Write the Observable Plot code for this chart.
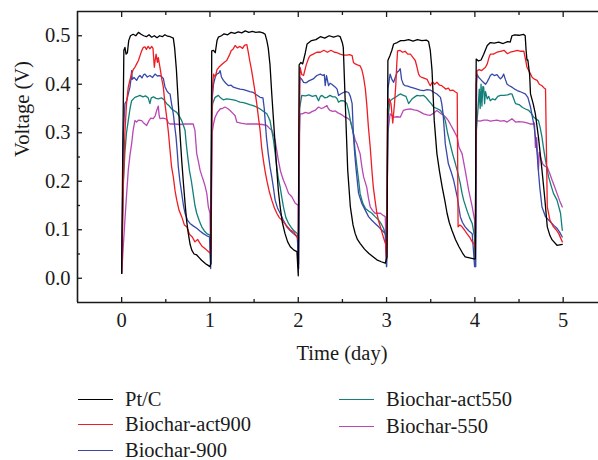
<!DOCTYPE html>
<html>
<head>
<meta charset="utf-8">
<script src="https://cdn.jsdelivr.net/npm/d3@7"></script>
<script src="https://cdn.jsdelivr.net/npm/@observablehq/plot@0.6"></script>
<style>
  html, body { margin: 0; padding: 0; background: #fff; }
  #wrap { position: relative; width: 598px; height: 460px; font-family: "Liberation Serif", "DejaVu Serif", serif; color: #1a1a1a; }
  #legend { position: absolute; left: 0; top: 0; width: 598px; height: 460px; pointer-events: none; }
  .item { position: absolute; display: flex; align-items: center; font-size: 20.5px; line-height: 18px; height: 18px; white-space: nowrap; }
  .sw { width: 35px; height: 0; border-top: 1.6px solid; margin-right: 12px; }
</style>
</head>
<body>
<div id="wrap"><div id="chart"></div><div id="legend"></div></div>
<script>
// ---- data (time in days, voltage in V) ----
const seriesNames = ["Pt/C", "Biochar-act900", "Biochar-900", "Biochar-act550", "Biochar-550"];
const seriesColors = ["#000000", "#f01c24", "#3848a8", "#137f78", "#b848b4"];
const xTicks = [0, 1, 2, 3, 4, 5];
const xMinor = [0.5, 1.5, 2.5, 3.5, 4.5];
const yTicks = [0, 0.1, 0.2, 0.3, 0.4, 0.5];
const yMinor = [0.05, 0.15, 0.25, 0.35, 0.45];
const xDomain = [-0.5, 5.4];
const yDomain = [-0.05, 0.55];
const xTitle = ["Time (day)"];
const yTitle = ["Voltage (V)"];

const ptC = [
[0,0.01],[0.012,0.25],[0.025,0.47],[0.037,0.476],[0.05,0.462],[0.065,0.465],[0.08,0.49],[0.1,0.5],[0.13,0.503],[0.16,0.5],[0.19,0.507],[0.22,0.503],[0.25,0.5],[0.28,0.498],[0.31,0.502],[0.34,0.497],[0.37,0.5],[0.4,0.496],[0.43,0.5],[0.46,0.498],[0.49,0.502],[0.52,0.499],[0.55,0.498],[0.585,0.495],[0.6,0.475],[0.62,0.43],[0.642,0.36],[0.66,0.3],[0.68,0.243],[0.7,0.195],[0.718,0.155],[0.735,0.12],[0.755,0.092],[0.775,0.07],[0.794,0.058],[0.82,0.05],[0.85,0.048],[0.88,0.042],[0.905,0.037],[0.925,0.034],[0.95,0.03],[0.975,0.027],[1.0,0.024],
[1.01,0.03],[1.02,0.469],[1.04,0.47],[1.06,0.465],[1.08,0.49],[1.095,0.497],[1.13,0.5],[1.16,0.504],[1.2,0.502],[1.24,0.507],[1.28,0.505],[1.32,0.508],[1.36,0.506],[1.4,0.51],[1.44,0.507],[1.48,0.509],[1.52,0.507],[1.56,0.508],[1.6,0.506],[1.625,0.503],[1.644,0.49],[1.66,0.475],[1.68,0.44],[1.7,0.38],[1.72,0.325],[1.74,0.27],[1.757,0.223],[1.775,0.18],[1.795,0.147],[1.82,0.115],[1.85,0.092],[1.88,0.075],[1.91,0.065],[1.95,0.058],[1.985,0.055],
[2.0,0.005],[2.01,0.44],[2.03,0.445],[2.05,0.442],[2.08,0.465],[2.1,0.483],[2.15,0.49],[2.2,0.492],[2.25,0.498],[2.3,0.495],[2.35,0.5],[2.4,0.497],[2.45,0.5],[2.475,0.498],[2.5,0.485],[2.51,0.476],[2.53,0.373],[2.56,0.223],[2.59,0.147],[2.62,0.11],[2.645,0.092],[2.67,0.08],[2.70,0.072],[2.75,0.06],[2.8,0.051],[2.85,0.044],[2.89,0.038],[2.94,0.034],[2.985,0.031],
[3.005,0.044],[3.015,0.449],[3.04,0.46],[3.06,0.47],[3.08,0.483],[3.12,0.486],[3.16,0.49],[3.2,0.49],[3.25,0.492],[3.3,0.489],[3.35,0.492],[3.4,0.49],[3.45,0.491],[3.476,0.488],[3.495,0.47],[3.515,0.428],[3.54,0.325],[3.57,0.257],[3.6,0.22],[3.63,0.188],[3.66,0.16],[3.685,0.134],[3.71,0.115],[3.74,0.099],[3.78,0.08],[3.82,0.065],[3.86,0.052],[3.89,0.044],[3.94,0.042],[3.99,0.04],
[4.005,0.04],[4.015,0.452],[4.04,0.448],[4.07,0.45],[4.1,0.462],[4.14,0.48],[4.175,0.486],[4.22,0.485],[4.27,0.487],[4.32,0.484],[4.37,0.488],[4.4,0.487],[4.42,0.5],[4.45,0.502],[4.5,0.501],[4.55,0.503],[4.57,0.5],[4.58,0.47],[4.59,0.45],[4.6,0.45],[4.62,0.42],[4.63,0.38],[4.66,0.36],[4.685,0.339],[4.72,0.291],[4.76,0.223],[4.79,0.168],[4.82,0.106],[4.85,0.088],[4.875,0.079],[4.93,0.068],[4.99,0.07]
];

const act900 = [
[0,0.01],[0.02,0.2],[0.037,0.3],[0.055,0.36],[0.075,0.394],[0.095,0.41],[0.113,0.421],[0.13,0.43],[0.15,0.435],[0.17,0.442],[0.19,0.449],[0.21,0.46],[0.227,0.469],[0.245,0.476],[0.264,0.477],[0.28,0.472],[0.3,0.478],[0.32,0.473],[0.34,0.478],[0.355,0.474],[0.37,0.435],[0.38,0.45],[0.39,0.462],[0.405,0.445],[0.415,0.455],[0.44,0.428],[0.455,0.41],[0.472,0.394],[0.49,0.36],[0.51,0.332],[0.53,0.3],[0.548,0.264],[0.565,0.23],[0.585,0.209],[0.605,0.18],[0.624,0.161],[0.65,0.14],[0.68,0.127],[0.71,0.11],[0.737,0.106],[0.77,0.09],[0.8,0.085],[0.83,0.075],[0.86,0.08],[0.888,0.072],[0.91,0.066],[0.94,0.062],[0.964,0.058],[1.0,0.052],
[1.01,0.06],[1.025,0.38],[1.04,0.421],[1.06,0.415],[1.08,0.43],[1.1,0.435],[1.13,0.44],[1.16,0.445],[1.19,0.449],[1.22,0.46],[1.24,0.469],[1.26,0.472],[1.285,0.48],[1.31,0.475],[1.34,0.478],[1.37,0.474],[1.39,0.48],[1.417,0.482],[1.435,0.465],[1.45,0.449],[1.47,0.43],[1.49,0.408],[1.51,0.385],[1.53,0.36],[1.55,0.33],[1.568,0.305],[1.585,0.27],[1.605,0.243],[1.625,0.22],[1.644,0.202],[1.67,0.18],[1.7,0.161],[1.73,0.145],[1.757,0.134],[1.785,0.125],[1.814,0.12],[1.86,0.11],[1.908,0.1],[1.95,0.095],[1.985,0.085],
[2.0,0.08],[2.01,0.3],[2.02,0.435],[2.04,0.42],[2.06,0.418],[2.09,0.44],[2.12,0.455],[2.135,0.459],[2.17,0.462],[2.21,0.466],[2.25,0.466],[2.29,0.47],[2.33,0.466],[2.37,0.47],[2.41,0.466],[2.44,0.465],[2.475,0.462],[2.51,0.46],[2.55,0.46],[2.58,0.461],[2.61,0.459],[2.625,0.445],[2.645,0.442],[2.67,0.44],[2.70,0.438],[2.72,0.43],[2.74,0.414],[2.76,0.39],[2.775,0.36],[2.795,0.31],[2.815,0.27],[2.835,0.22],[2.85,0.188],[2.87,0.16],[2.89,0.134],[2.91,0.118],[2.93,0.106],[2.955,0.09],[2.974,0.079],[2.99,0.07],
[3.0,0.04],[3.01,0.35],[3.03,0.37],[3.05,0.36],[3.07,0.32],[3.09,0.36],[3.105,0.4],[3.115,0.44],[3.125,0.469],[3.15,0.47],[3.18,0.466],[3.21,0.468],[3.24,0.462],[3.27,0.462],[3.3,0.455],[3.325,0.449],[3.345,0.435],[3.363,0.421],[3.38,0.416],[3.4,0.414],[3.43,0.412],[3.46,0.41],[3.48,0.402],[3.495,0.397],[3.52,0.405],[3.545,0.4],[3.57,0.404],[3.6,0.398],[3.625,0.397],[3.646,0.394],[3.67,0.39],[3.7,0.392],[3.72,0.387],[3.75,0.388],[3.78,0.384],[3.8,0.382],[3.81,0.106],[3.83,0.11],[3.855,0.106],[3.88,0.1],[3.91,0.092],[3.94,0.085],[3.97,0.075],[3.995,0.07],
[4.005,0.06],[4.015,0.4],[4.025,0.428],[4.05,0.43],[4.075,0.428],[4.1,0.432],[4.12,0.435],[4.14,0.442],[4.16,0.455],[4.175,0.462],[4.21,0.462],[4.25,0.466],[4.29,0.468],[4.33,0.47],[4.37,0.463],[4.40,0.466],[4.44,0.468],[4.48,0.47],[4.52,0.468],[4.555,0.468],[4.575,0.45],[4.59,0.435],[4.62,0.425],[4.65,0.414],[4.68,0.41],[4.705,0.408],[4.73,0.4],[4.76,0.397],[4.78,0.393],[4.80,0.39],[4.82,0.147],[4.85,0.12],[4.89,0.106],[4.92,0.1],[4.95,0.092],[4.99,0.075]
];

const bc900 = [
[0,0.01],[0.02,0.3],[0.037,0.36],[0.057,0.366],[0.075,0.38],[0.094,0.394],[0.105,0.41],[0.113,0.428],[0.12,0.41],[0.14,0.414],[0.17,0.408],[0.19,0.415],[0.207,0.418],[0.23,0.413],[0.25,0.42],[0.264,0.421],[0.29,0.415],[0.32,0.418],[0.35,0.414],[0.378,0.421],[0.405,0.417],[0.434,0.418],[0.455,0.415],[0.472,0.412],[0.49,0.395],[0.51,0.387],[0.53,0.382],[0.548,0.38],[0.565,0.36],[0.585,0.339],[0.6,0.315],[0.616,0.291],[0.63,0.26],[0.642,0.229],[0.66,0.2],[0.68,0.175],[0.7,0.15],[0.718,0.134],[0.745,0.12],[0.774,0.113],[0.81,0.108],[0.85,0.103],[0.89,0.097],[0.925,0.092],[0.96,0.088],[0.995,0.085],
[1.008,0.02],[1.02,0.36],[1.04,0.4],[1.06,0.415],[1.077,0.421],[1.1,0.423],[1.115,0.428],[1.13,0.415],[1.152,0.408],[1.18,0.402],[1.21,0.397],[1.24,0.398],[1.265,0.394],[1.3,0.392],[1.34,0.39],[1.38,0.389],[1.417,0.387],[1.45,0.385],[1.49,0.383],[1.53,0.378],[1.568,0.373],[1.6,0.372],[1.615,0.35],[1.625,0.325],[1.64,0.29],[1.66,0.257],[1.68,0.23],[1.70,0.209],[1.72,0.185],[1.738,0.161],[1.765,0.145],[1.795,0.134],[1.83,0.12],[1.87,0.106],[1.91,0.098],[1.945,0.092],[1.99,0.085],
[2.005,0.02],[2.015,0.4],[2.02,0.414],[2.04,0.41],[2.06,0.404],[2.09,0.403],[2.12,0.407],[2.17,0.411],[2.21,0.418],[2.25,0.421],[2.28,0.418],[2.295,0.42],[2.305,0.397],[2.32,0.418],[2.343,0.397],[2.36,0.402],[2.38,0.4],[2.42,0.394],[2.44,0.39],[2.456,0.377],[2.48,0.38],[2.51,0.383],[2.54,0.385],[2.57,0.383],[2.59,0.375],[2.61,0.36],[2.626,0.291],[2.64,0.255],[2.656,0.223],[2.683,0.175],[2.72,0.154],[2.76,0.14],[2.796,0.127],[2.83,0.12],[2.87,0.113],[2.91,0.106],[2.948,0.099],[2.985,0.092],
[3.0,0.024],[3.015,0.39],[3.04,0.421],[3.06,0.41],[3.08,0.404],[3.1,0.415],[3.12,0.425],[3.14,0.428],[3.155,0.432],[3.17,0.41],[3.19,0.4],[3.21,0.397],[3.24,0.396],[3.27,0.394],[3.31,0.392],[3.345,0.39],[3.38,0.388],[3.42,0.387],[3.46,0.389],[3.495,0.388],[3.53,0.384],[3.57,0.38],[3.61,0.373],[3.625,0.36],[3.64,0.339],[3.665,0.277],[3.70,0.236],[3.73,0.22],[3.76,0.202],[3.80,0.168],[3.835,0.127],[3.86,0.115],[3.89,0.106],[3.93,0.098],[3.97,0.092],[3.997,0.024],
[4.01,0.024],[4.02,0.4],[4.025,0.421],[4.04,0.415],[4.06,0.411],[4.09,0.405],[4.12,0.40],[4.14,0.405],[4.157,0.411],[4.175,0.418],[4.195,0.421],[4.22,0.418],[4.25,0.42],[4.27,0.415],[4.29,0.411],[4.31,0.415],[4.326,0.421],[4.345,0.41],[4.365,0.40],[4.39,0.397],[4.42,0.394],[4.45,0.39],[4.48,0.387],[4.51,0.385],[4.535,0.383],[4.57,0.38],[4.6,0.373],[4.63,0.353],[4.667,0.318],[4.69,0.285],[4.705,0.257],[4.72,0.22],[4.735,0.188],[4.76,0.147],[4.8,0.127],[4.856,0.116],[4.9,0.108],[4.93,0.103],[4.96,0.095],[4.99,0.085]
];

const act550 = [
[0,0.03],[0.02,0.2],[0.037,0.26],[0.055,0.3],[0.075,0.325],[0.095,0.35],[0.113,0.366],[0.15,0.373],[0.18,0.375],[0.207,0.377],[0.24,0.374],[0.27,0.376],[0.3,0.372],[0.32,0.36],[0.335,0.372],[0.36,0.374],[0.39,0.371],[0.415,0.37],[0.45,0.372],[0.48,0.368],[0.51,0.36],[0.54,0.355],[0.567,0.349],[0.6,0.345],[0.624,0.342],[0.65,0.335],[0.68,0.325],[0.7,0.315],[0.718,0.305],[0.73,0.28],[0.744,0.257],[0.767,0.223],[0.79,0.2],[0.81,0.175],[0.83,0.15],[0.85,0.134],[0.88,0.118],[0.907,0.106],[0.935,0.098],[0.964,0.092],[1.0,0.089],
[1.008,0.03],[1.02,0.33],[1.03,0.36],[1.058,0.373],[1.095,0.377],[1.12,0.372],[1.15,0.368],[1.19,0.37],[1.23,0.369],[1.265,0.368],[1.3,0.366],[1.34,0.363],[1.38,0.362],[1.417,0.36],[1.45,0.358],[1.49,0.356],[1.53,0.353],[1.568,0.349],[1.6,0.345],[1.644,0.339],[1.66,0.333],[1.68,0.325],[1.70,0.305],[1.72,0.284],[1.74,0.255],[1.757,0.229],[1.775,0.205],[1.795,0.188],[1.815,0.165],[1.832,0.147],[1.86,0.125],[1.89,0.113],[1.92,0.105],[1.945,0.099],[1.99,0.092],
[2.0,0.024],[2.015,0.35],[2.04,0.377],[2.08,0.376],[2.12,0.378],[2.16,0.375],[2.2,0.377],[2.23,0.366],[2.25,0.375],[2.27,0.377],[2.3,0.372],[2.325,0.373],[2.36,0.377],[2.39,0.374],[2.42,0.374],[2.44,0.37],[2.456,0.363],[2.48,0.366],[2.51,0.366],[2.53,0.364],[2.55,0.36],[2.57,0.345],[2.59,0.325],[2.61,0.31],[2.63,0.291],[2.645,0.26],[2.665,0.229],[2.685,0.2],[2.70,0.175],[2.73,0.155],[2.76,0.144],[2.80,0.138],[2.834,0.134],[2.87,0.127],[2.91,0.12],[2.94,0.112],[2.966,0.103],[2.996,0.085],
[3.0,0.024],[3.015,0.33],[3.04,0.366],[3.07,0.37],[3.1,0.373],[3.13,0.377],[3.155,0.38],[3.19,0.377],[3.22,0.375],[3.25,0.36],[3.27,0.365],[3.29,0.37],[3.32,0.374],[3.345,0.377],[3.38,0.376],[3.42,0.377],[3.45,0.372],[3.476,0.366],[3.505,0.36],[3.533,0.353],[3.57,0.35],[3.61,0.346],[3.64,0.338],[3.665,0.325],[3.69,0.3],[3.72,0.277],[3.75,0.255],[3.78,0.236],[3.81,0.215],[3.835,0.195],[3.855,0.175],[3.873,0.161],[3.91,0.14],[3.94,0.125],[3.97,0.113],[3.997,0.085],
[4.005,0.024],[4.015,0.3],[4.025,0.325],[4.04,0.36],[4.05,0.39],[4.06,0.35],[4.07,0.4],[4.08,0.355],[4.09,0.395],[4.1,0.394],[4.11,0.36],[4.12,0.385],[4.14,0.37],[4.157,0.375],[4.175,0.366],[4.2,0.37],[4.23,0.368],[4.26,0.375],[4.29,0.377],[4.33,0.377],[4.37,0.378],[4.40,0.38],[4.42,0.38],[4.44,0.37],[4.46,0.36],[4.5,0.358],[4.54,0.352],[4.573,0.349],[4.61,0.346],[4.64,0.34],[4.667,0.332],[4.72,0.325],[4.74,0.31],[4.76,0.291],[4.78,0.265],[4.80,0.243],[4.835,0.209],[4.865,0.19],[4.89,0.175],[4.93,0.161],[4.97,0.134],[4.99,0.099]
];

const bc550 = [
[0,0.01],[0.02,0.07],[0.037,0.12],[0.055,0.17],[0.075,0.223],[0.095,0.255],[0.113,0.277],[0.13,0.305],[0.15,0.325],[0.17,0.322],[0.19,0.326],[0.227,0.325],[0.25,0.32],[0.283,0.315],[0.31,0.325],[0.33,0.33],[0.358,0.329],[0.38,0.335],[0.397,0.346],[0.415,0.355],[0.425,0.335],[0.434,0.329],[0.47,0.33],[0.51,0.328],[0.53,0.32],[0.548,0.318],[0.6,0.318],[0.66,0.317],[0.72,0.318],[0.78,0.318],[0.81,0.318],[0.83,0.305],[0.85,0.257],[0.87,0.24],[0.888,0.223],[0.91,0.21],[0.925,0.202],[0.945,0.19],[0.964,0.175],[0.982,0.147],[1.0,0.134],
[1.01,0.03],[1.025,0.3],[1.04,0.318],[1.058,0.332],[1.085,0.342],[1.115,0.349],[1.14,0.35],[1.17,0.353],[1.2,0.35],[1.228,0.346],[1.265,0.339],[1.285,0.335],[1.304,0.322],[1.35,0.32],[1.417,0.318],[1.48,0.318],[1.53,0.318],[1.59,0.317],[1.644,0.315],[1.67,0.31],[1.70,0.305],[1.72,0.295],[1.738,0.284],[1.755,0.265],[1.775,0.243],[1.80,0.22],[1.832,0.202],[1.86,0.19],[1.89,0.175],[1.927,0.168],[1.964,0.155],[2.0,0.15],
[2.005,0.03],[2.015,0.3],[2.02,0.339],[2.045,0.339],[2.08,0.342],[2.12,0.34],[2.16,0.344],[2.19,0.346],[2.23,0.353],[2.26,0.35],[2.29,0.352],[2.325,0.356],[2.34,0.35],[2.36,0.346],[2.39,0.344],[2.42,0.345],[2.45,0.341],[2.475,0.339],[2.5,0.336],[2.53,0.332],[2.56,0.33],[2.59,0.325],[2.61,0.31],[2.626,0.298],[2.645,0.285],[2.665,0.277],[2.685,0.265],[2.70,0.257],[2.72,0.23],[2.74,0.209],[2.775,0.188],[2.795,0.165],[2.815,0.147],[2.84,0.14],[2.87,0.134],[2.93,0.134],[2.96,0.13],[2.985,0.127],
[3.0,0.035],[3.015,0.3],[3.04,0.339],[3.08,0.332],[3.12,0.333],[3.155,0.332],[3.19,0.346],[3.23,0.348],[3.27,0.349],[3.31,0.347],[3.345,0.346],[3.38,0.343],[3.42,0.339],[3.46,0.337],[3.495,0.336],[3.53,0.34],[3.57,0.346],[3.61,0.34],[3.646,0.336],[3.67,0.332],[3.70,0.325],[3.73,0.315],[3.76,0.305],[3.78,0.298],[3.80,0.291],[3.82,0.27],[3.855,0.257],[3.89,0.223],[3.93,0.181],[3.97,0.147],[3.997,0.12],
[4.005,0.03],[4.012,0.3],[4.017,0.325],[4.06,0.324],[4.1,0.326],[4.14,0.326],[4.175,0.324],[4.21,0.325],[4.25,0.326],[4.29,0.324],[4.33,0.325],[4.365,0.322],[4.42,0.329],[4.46,0.322],[4.5,0.323],[4.555,0.322],[4.6,0.32],[4.63,0.318],[4.66,0.318],[4.675,0.32],[4.685,0.27],[4.7,0.29],[4.72,0.223],[4.73,0.26],[4.75,0.245],[4.77,0.235],[4.8,0.23],[4.82,0.229],[4.85,0.215],[4.875,0.202],[4.9,0.19],[4.93,0.175],[4.96,0.16],[4.99,0.147]
];

const seriesData = [ptC, act900, bc900, act550, bc550];

// ---- build table ----
const rows = [];
seriesData.forEach((arr, i) => arr.forEach(([t, v]) => rows.push({series: seriesNames[i], t, v})));
const drawOrder = [...seriesNames].reverse();

const chart = Plot.plot({
  width: 598,
  height: 375,
  marginLeft: 77,
  marginRight: 0,
  marginTop: 11,
  marginBottom: 73,
  style: {fontFamily: "'Liberation Serif', 'DejaVu Serif', serif", fontSize: "20.5px", color: "#1a1a1a", background: "transparent", overflow: "visible"},
  x: {domain: xDomain},
  y: {domain: yDomain},
  color: {domain: seriesNames, range: seriesColors},
  marks: [
    ...drawOrder.map(name => Plot.line(rows.filter(d => d.series === name), {x: "t", y: "v", stroke: "series", strokeWidth: 1.3, strokeLinejoin: "round"})),
    Plot.ruleX([xDomain[0]], {stroke: "#1a1a1a", strokeWidth: 1.6}),
    Plot.ruleY([yDomain[0], yDomain[1]], {stroke: "#1a1a1a", strokeWidth: 1.6}),
    Plot.axisX(xTicks, {anchor: "bottom", tickSize: -5, tickPadding: 15, tickFormat: d => String(d), label: null, strokeWidth: 1.3}),
    Plot.axisX(xMinor, {anchor: "bottom", tickSize: -3, tickFormat: () => "", label: null, strokeWidth: 1.3}),
    Plot.axisX(xTicks, {anchor: "top", tickSize: -5, tickFormat: () => "", label: null, strokeWidth: 1.3}),
    Plot.axisX(xMinor, {anchor: "top", tickSize: -3, tickFormat: () => "", label: null, strokeWidth: 1.3}),
    Plot.axisY(yTicks, {anchor: "left", tickSize: -5, tickPadding: 12, tickFormat: d => d.toFixed(1), label: null, strokeWidth: 1.3}),
    Plot.axisY(yMinor, {anchor: "left", tickSize: -3, tickFormat: () => "", label: null, strokeWidth: 1.3}),
    Plot.text(xTitle, {frameAnchor: "bottom", text: d => d, dx: 4, dy: 51, lineAnchor: "middle", fontSize: 20.5}),
    Plot.text(yTitle, {frameAnchor: "left", text: d => d, dx: -55, rotate: -90, lineAnchor: "middle", fontSize: 20.5})
  ]
});
document.getElementById("chart").appendChild(chart);

// ---- legend ----
const legendPos = [
  {left: 78, top: 399}, {left: 78, top: 424}, {left: 78, top: 450},
  {left: 339, top: 399}, {left: 339, top: 426}
];
const legend = document.getElementById("legend");
seriesNames.forEach((name, i) => {
  const item = document.createElement("div");
  item.className = "item";
  item.style.left = legendPos[i].left + "px";
  item.style.top = (legendPos[i].top - 9) + "px";
  const sw = document.createElement("span");
  sw.className = "sw";
  sw.style.borderTopColor = seriesColors[i];
  const label = document.createElement("span");
  label.textContent = name;
  item.appendChild(sw);
  item.appendChild(label);
  legend.appendChild(item);
});
</script>
</body>
</html>
